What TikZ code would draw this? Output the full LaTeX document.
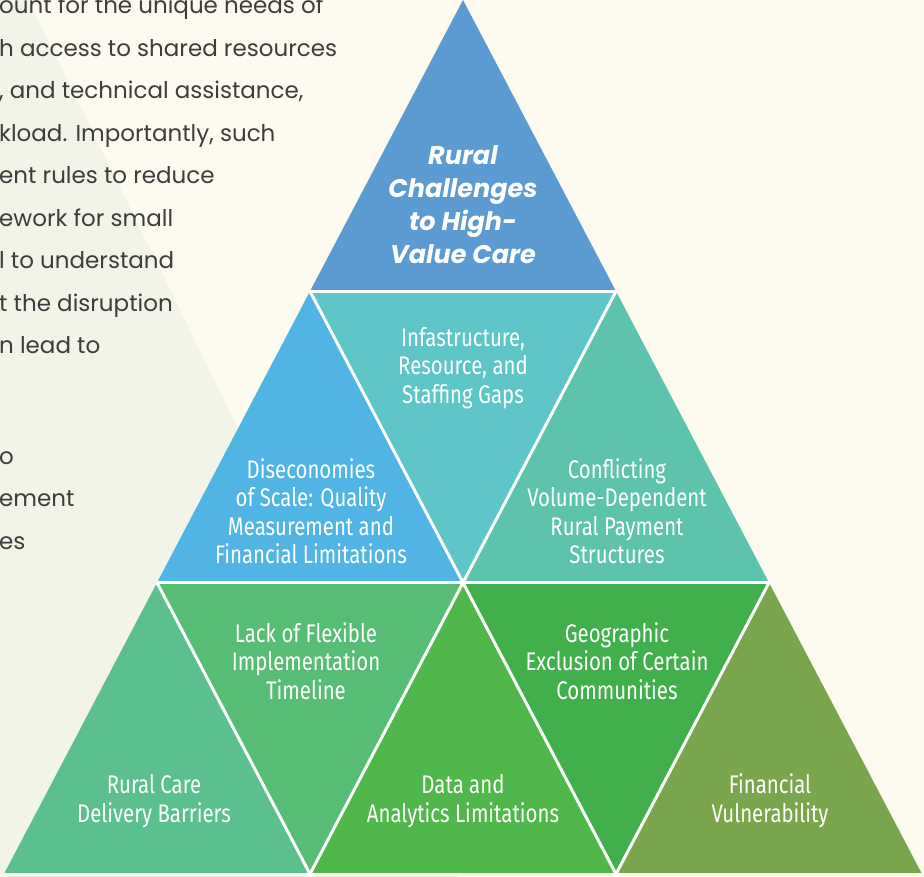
\documentclass[tikz,border=0pt]{standalone}
\usepackage{fontspec}
\setmainfont{Poppins}
\newfontfamily\narrowfont{Fira Sans}[FakeStretch=0.8]
\newfontfamily\headfont{Poppins}
\usetikzlibrary{positioning}

% page and text colours
\definecolor{paper}{HTML}{FDFAEF}
\definecolor{mistgreen}{HTML}{F1F4E6}
\definecolor{inkgray}{HTML}{3D3D3D}
% pyramid colours, top to bottom
\definecolor{capblue}{HTML}{5C9BD1}
\definecolor{skyblue}{HTML}{50B4E4}
\definecolor{lagoon}{HTML}{5EC6C8}
\definecolor{seafoam}{HTML}{5DC3AD}
\definecolor{jade}{HTML}{5BBF8E}
\definecolor{mint}{HTML}{58BD74}
\definecolor{leaf}{HTML}{50B84B}
\definecolor{grass}{HTML}{41AF4B}
\definecolor{moss}{HTML}{79A64C}

\begin{document}
\begin{tikzpicture}[x=1pt, y=-1pt,
    bodytext/.style={text=inkgray, align=left, inner sep=0pt, font=\fontsize{23}{42.5}\selectfont},
    tritext/.style={text=white, align=center, inner sep=0pt, font=\narrowfont\fontsize{25.5}{28.5}\selectfont},
    toptext/.style={text=white, align=center, inner sep=0pt, font=\headfont\bfseries\itshape\fontsize{25.5}{33}\selectfont},
    seam/.style={white, line width=3pt}]
        \clip (0,0) rectangle (924,877);
        % Fondo de la pagina
        \fill[paper] (0,0) rectangle (924,877);
        \fill[mistgreen] (0,0) -- (28,0) -- (458,877) -- (0,877) -- cycle;

        % Texto de la columna izquierda
        \node[bodytext, anchor=north west] (para1) at (-1,-4) {ount for the unique needs of\\h access to shared resources\\, and technical assistance,\\kload. Importantly, such\\ent rules to reduce\\ework for small\\l to understand\\t the disruption\\n lead to};
        \node[bodytext, anchor=north west] (para2) at (-1,451) {o\\ement\\es};

        % Vertices de la piramide
        \coordinate (p0) at (463,0);
        \coordinate (l1) at (310,291.3);
        \coordinate (r1) at (616,291.3);
        \coordinate (l2) at (157,582.7);
        \coordinate (m2) at (463,582.7);
        \coordinate (r2) at (769,582.7);
        \coordinate (b1) at (4,874);
        \coordinate (b2) at (310,874);
        \coordinate (b3) at (616,874);
        \coordinate (b4) at (922,874);

        % Triangulos
        \fill[capblue] (p0) -- (l1) -- (r1) -- cycle;
        \fill[skyblue] (l1) -- (l2) -- (m2) -- cycle;
        \fill[lagoon] (l1) -- (r1) -- (m2) -- cycle;
        \fill[seafoam] (r1) -- (m2) -- (r2) -- cycle;
        \fill[jade] (l2) -- (b1) -- (b2) -- cycle;
        \fill[mint] (l2) -- (m2) -- (b2) -- cycle;
        \fill[leaf] (m2) -- (b2) -- (b3) -- cycle;
        \fill[grass] (m2) -- (r2) -- (b3) -- cycle;
        \fill[moss] (r2) -- (b3) -- (b4) -- cycle;

        % Lineas blancas entre triangulos
        \draw[seam] (l1) -- (r1);
        \draw[seam] (l2) -- (r2);
        \draw[seam] (b1) -- (b4);
        \draw[seam] (l1) -- (b3);
        \draw[seam] (r1) -- (b2);
        \draw[seam] (l2) -- (b2);
        \draw[seam] (r2) -- (b3);

        % Etiquetas
        \node[toptext] (core) at (463,205) {Rural\\Challenges\\to High-\\Value Care};
        \node[tritext] (gaps) at (463,368) {Infastructure,\\Resource, and\\Staffing Gaps};
        \node[tritext] (scale) at (311,511) {Diseconomies\\of Scale: Quality\\Measurement and\\Financial Limitations};
        \node[tritext] (payment) at (617,511) {Conflicting\\Volume-Dependent\\Rural Payment\\Structures};
        \node[tritext] (timeline) at (306,661) {Lack of Flexible\\Implementation\\Timeline};
        \node[tritext] (geography) at (617,661) {Geographic\\Exclusion of Certain\\Communities};
        \node[tritext] (delivery) at (154,801) {Rural Care\\Delivery Barriers};
        \node[tritext] (data) at (463,801) {Data and\\Analytics Limitations};
        \node[tritext] (finance) at (770,801) {Financial\\Vulnerability};
    \end{tikzpicture}
\end{document}
